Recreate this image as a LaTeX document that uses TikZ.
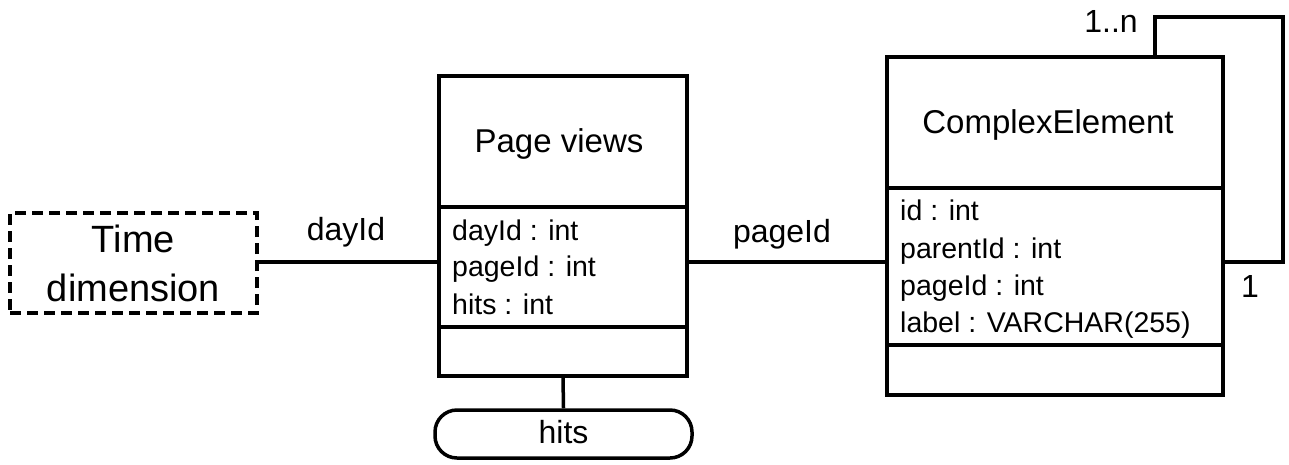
\documentclass[tikz,border=0pt]{standalone}
\usepackage{fontspec}
\setmainfont{Liberation Sans}
\begin{document}
\begin{tikzpicture}[x=1pt,y=-1pt,
  box/.style={draw,line width=3.5pt,rectangle,inner sep=0pt},
  lnk/.style={line width=3.5pt},
  txt/.style={inner sep=0pt,anchor=base,font=\fontsize{32}{38}\selectfont},
  attr/.style={inner sep=0pt,anchor=base west,font=\fontsize{28.5}{34}\selectfont},
]
\useasboundingbox (0,0) rectangle (1289,464);
% Time dimension
\node[box,dashed,dash pattern=on 11pt off 6pt,minimum width=247pt,minimum height=100pt] (td) at (133.5,263) {};
\node[txt,font=\fontsize{38}{44}\selectfont] (tdt1) at (133.5,252) {Time};
\node[txt,font=\fontsize{38}{44}\selectfont] (tdt2) at (133.5,301) {dimension};
% Page views
\node[box,minimum width=248pt,minimum height=300pt] (pv) at (563,226) {};
\draw[lnk] (pv.west |- 0,207) -- (pv.east |- 0,207);
\draw[lnk] (pv.west |- 0,327) -- (pv.east |- 0,327);
\node[txt,font=\fontsize{33}{38}\selectfont] (pvt) at (559,152) {Page views};
\node[attr] (pva1) at (452,240) {dayId : int};
\node[attr] (pva2) at (452,276) {pageId : int};
\node[attr] (pva3) at (452,314) {hits : int};
% hits
\node[box,rounded corners=22pt,minimum width=257pt,minimum height=48pt] (hits) at (563.5,434) {};
\node[txt] (hitst) at (563.5,443) {hits};
\draw[lnk] (pv.south) -- (hits.north);
% ComplexElement
\node[box,minimum width=336pt,minimum height=338pt] (ce) at (1055,226) {};
\draw[lnk] (ce.west |- 0,188) -- (ce.east |- 0,188);
\draw[lnk] (ce.west |- 0,345) -- (ce.east |- 0,345);
\node[txt,font=\fontsize{33}{38}\selectfont] (cet) at (1048,133) {ComplexElement};
\node[attr] (cea1) at (900,220) {id : int};
\node[attr] (cea2) at (900,258) {parentId : int};
\node[attr] (cea3) at (900,295) {pageId : int};
\node[attr] (cea4) at (900,332) {label : VARCHAR(255)};
% connectors
\coordinate (y1) at (0,262);
\draw[lnk] (td.east |- y1) -- (pv.west |- y1);
\node[txt] (l1) at (346,240) {dayId};
\draw[lnk] (pv.east |- y1) -- (ce.west |- y1);
\node[txt] (l2) at (782,242) {pageId};
% self loop
\coordinate (lx) at (1155,0);
\coordinate (lc) at (1283,17);
\draw[lnk] (ce.north -| lx) |- (lc) |- (ce.east |- y1);
\node[txt] (m1) at (1111,32) {1..n};
\node[txt] (m2) at (1250,297) {1};
\end{tikzpicture}
\end{document}
